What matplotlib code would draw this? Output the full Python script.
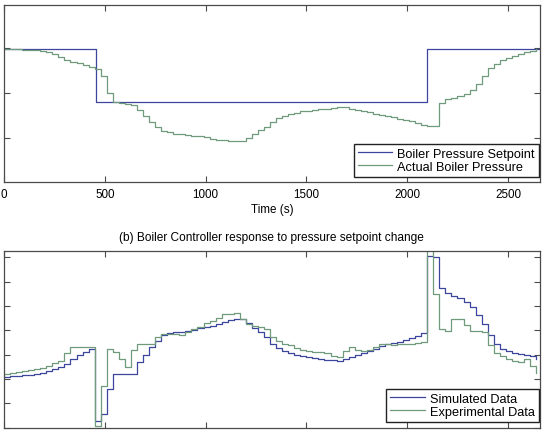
import numpy as np
import matplotlib.pyplot as plt

# ---------------------------------------- DATA ----------------------------------------
# sample time of the logged signals (s)
t = np.arange(0, 2641, 30)

# (a) boiler pressure setpoint (step times, levels)
sp_time = [0, 455, 2098, 2660]
sp_level = [2.99, 1.81, 2.99, 2.99]

# (a) actual boiler pressure
actual = [2.99, 2.99, 2.98, 2.97, 2.97, 2.96, 2.94, 2.91, 2.88, 2.81,
          2.75, 2.70, 2.67, 2.63, 2.58, 2.53, 2.38, 2.00, 1.80, 1.77,
          1.76, 1.74, 1.62, 1.48, 1.36, 1.25, 1.16, 1.12, 1.09, 1.08,
          1.07, 1.05, 1.04, 1.02, 0.98, 0.95, 0.94, 0.93, 0.92, 0.92,
          1.00, 1.08, 1.17, 1.25, 1.36, 1.45, 1.49, 1.53, 1.56, 1.59,
          1.61, 1.63, 1.64, 1.65, 1.67, 1.68, 1.69, 1.65, 1.62, 1.59,
          1.57, 1.54, 1.51, 1.48, 1.46, 1.43, 1.40, 1.37, 1.33, 1.29,
          1.27, 1.26, 1.78, 1.86, 1.90, 1.94, 1.98, 2.07, 2.20, 2.38,
          2.57, 2.66, 2.73, 2.79, 2.84, 2.87, 2.91, 2.94, 2.98]

# (b) simulated controller response
simulated = [2.07, 2.10, 2.12, 2.15, 2.18, 2.22, 2.25, 2.32, 2.40, 2.47,
             2.62, 2.82, 2.98, 3.12, 3.22, 0.28, 0.55, 1.60, 2.20, 2.20,
             2.20, 2.22, 2.68, 3.00, 3.30, 3.58, 3.80, 3.88, 3.92, 3.95,
             3.98, 4.03, 4.08, 4.13, 4.19, 4.27, 4.35, 4.42, 4.47, 4.47,
             4.30, 4.10, 3.92, 3.72, 3.45, 3.28, 3.15, 3.05, 2.98, 2.93,
             2.89, 2.85, 2.81, 2.78, 2.76, 2.75, 2.80, 2.90, 2.98, 3.05,
             3.15, 3.23, 3.35, 3.42, 3.47, 3.52, 3.60, 3.67, 3.78, 3.89,
             7.07, 7.00, 5.75, 5.52, 5.42, 5.32, 5.15, 4.98, 4.65, 4.25,
             3.80, 3.44, 3.25, 3.15, 3.08, 3.02, 2.98, 2.95, 2.80]

# (b) experimental controller response
experimental = [2.20, 2.25, 2.30, 2.33, 2.38, 2.42, 2.45, 2.55, 2.65, 2.75,
                3.05, 3.30, 3.32, 3.32, 3.33, 0.05, 1.70, 3.25, 3.10, 2.80,
                2.50, 3.20, 3.44, 3.44, 3.44, 3.71, 3.85, 3.85, 3.85, 3.80,
                3.95, 4.05, 4.15, 4.30, 4.40, 4.52, 4.67, 4.68, 4.70, 4.45,
                4.26, 4.18, 4.12, 4.05, 3.71, 3.55, 3.45, 3.38, 3.28, 3.20,
                3.16, 3.12, 3.10, 3.05, 2.95, 2.92, 3.16, 3.33, 3.20, 3.16,
                3.20, 3.30, 3.44, 3.42, 3.40, 3.42, 3.44, 3.44, 3.47, 3.51,
                7.40, 5.50, 4.05, 3.98, 4.47, 4.47, 4.20, 3.98, 3.98, 3.95,
                3.40, 3.05, 2.95, 2.82, 2.75, 2.68, 2.80, 2.55, 2.25]

xticks = [0, 500, 1000, 1500, 2000, 2500]

# ---------------------------------------- PLOT ----------------------------------------
plt.rcParams['font.family'] = ['Liberation Sans', 'DejaVu Sans']

blue = '#3b469c'
green = '#6f9a7c'
grey = '#4a4a4a'

fig = plt.figure(figsize=(5.46, 4.35), dpi=100)
ax1 = fig.add_axes([0.0073, 0.5782, 0.9812, 0.408])
ax2 = fig.add_axes([0.0073, 0.0149, 0.9812, 0.405])


def style(ax):
    for s in ax.spines.values():
        s.set_color(grey)
        s.set_linewidth(0.9)
    ax.tick_params(direction='in', length=4, width=0.8, color=grey,
                   top=True, right=True, labelsize=8.4, pad=4)
    ax.set_xticks(xticks)
    ax.set_xlim(0, 2658)


leg_kw = dict(loc='lower right', bbox_to_anchor=(0.998, 0.033), borderaxespad=0,
              fancybox=False, framealpha=1, edgecolor='#222222',
              handlelength=2.7, handletextpad=0.4, labelspacing=0.1,
              borderpad=0.3, fontsize=9.2)

# top plot
ax1.plot(sp_time, sp_level, drawstyle='steps-post', color=blue, lw=0.9,
         label='Boiler Pressure Setpoint')
ax1.plot(t, actual, drawstyle='steps-post', color=green, lw=0.9,
         label='Actual Boiler Pressure')
style(ax1)
ax1.set_ylim(0, 3.97)
ax1.set_yticks([1, 2, 3])
ax1.set_yticklabels([])
ax1.set_xlabel('Time (s)', labelpad=2, fontsize=8.4)
ax1.legend(**leg_kw)

# bottom plot
ax2.plot(t, simulated, drawstyle='steps-post', color=blue, lw=0.9,
         label='Simulated Data')
ax2.plot(t, experimental, drawstyle='steps-post', color=green, lw=0.9,
         label='Experimental Data')
style(ax2)
ax2.set_ylim(0, 7.25)
ax2.set_yticks(range(0, 8))
ax2.set_yticklabels([])
ax2.set_xticklabels([])
ax2.legend(**leg_kw)
fig.text(0.498, 1 - 238 / 435, '(b) Boiler Controller response to pressure setpoint change',
         ha='center', va='center', fontsize=8.6)

fig.savefig('out.png', dpi=100)
